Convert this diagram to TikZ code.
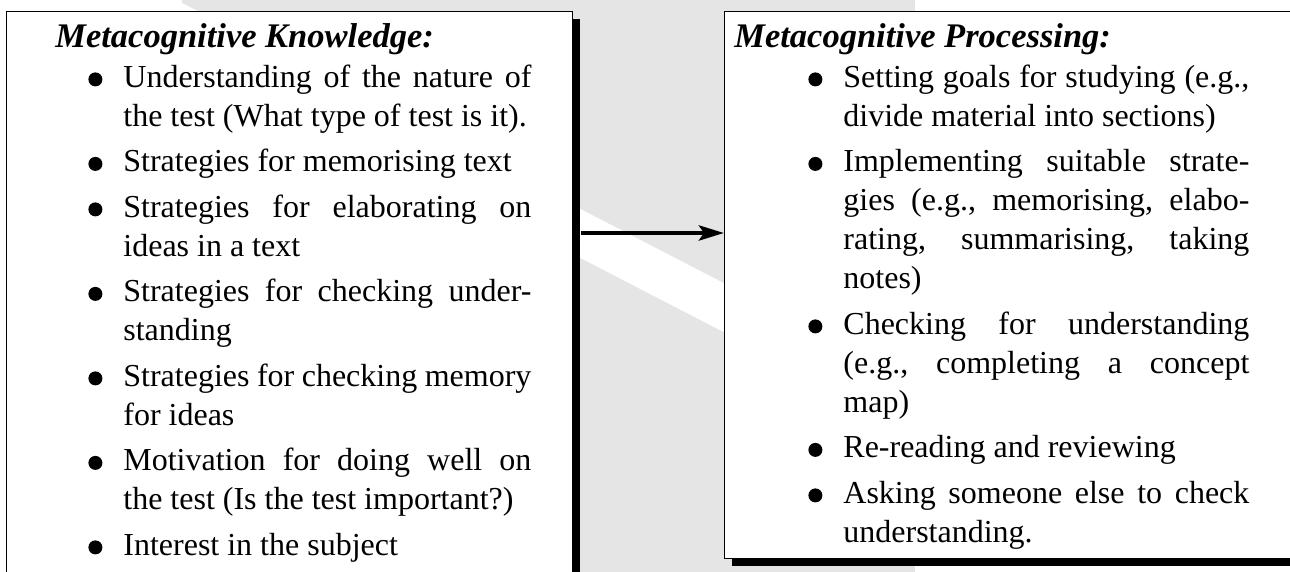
\documentclass[tikz,border=0pt]{standalone}
\usepackage{fontspec}
\setmainfont{Liberation Serif}
\usetikzlibrary{arrows.meta,shadows}
\definecolor{bggray}{RGB}{229,229,229}
\newcommand{\bul}{\tikz[baseline=-8pt]\fill (0,0) circle (7pt);}
\newcommand{\jline}[1]{\makebox[\linewidth][s]{#1}\newline}
\newcommand{\headfont}{\fontsize{34.5}{40}\selectfont\bfseries\itshape\frenchspacing\spaceskip=.25em plus .12em minus .06em\relax}
\newcommand{\bodyfont}{\fontsize{32}{39}\selectfont\frenchspacing\spaceskip=.25em plus .2em minus .06em\relax}
\newenvironment{blist}[1]{\list{\bul}{\setlength\leftmargin{#1}\setlength\rightmargin{41pt}\setlength\labelwidth{14pt}\setlength\labelsep{21pt}\setlength\itemsep{6.5pt}\setlength\parsep{0pt}\setlength\topsep{1pt}\setlength\partopsep{0pt}\setlength\itemindent{0pt}\setlength\listparindent{0pt}}}{\endlist}
\tikzset{
  panel/.style={draw=black, line width=0.8pt, fill=white, inner sep=0pt, anchor=north west,
    text width=566pt, text height=36pt,
    drop shadow={shadow xshift=8pt, shadow yshift=-8pt, opacity=1, fill=black}},
  flow/.style={line width=4.5pt, -{Stealth[length=25pt,width=15pt,inset=5pt]}},
}
\begin{document}
\begin{tikzpicture}[x=1pt,y=-1pt]
\useasboundingbox (0,0) rectangle (1290,572);
\clip (0,0) rectangle (1290,572);
\fill[bggray] (182,0) rectangle (915,572);
\fill[white] (182,3) -- (915,382) -- (915,431) -- (182,52) -- cycle;
\node[panel, text depth=600pt] (know) at (6,11) {%
{\headfont\rule{0pt}{36pt}\hspace*{49pt}Metacognitive Knowledge:\par}%
\bodyfont
\begin{blist}{117pt}
\item \jline{Understanding of the nature of}\mbox{the test (What type of test is it).}
\item \mbox{Strategies for memorising text}
\item \jline{Strategies for elaborating on}\mbox{ideas in a text}
\item \jline{Strategies for checking under-}\mbox{standing}
\item \jline{Strategies for checking memory}\mbox{for ideas}
\item \jline{Motivation for doing well on}\mbox{the test (Is the test important?)}
\item \mbox{Interest in the subject}
\end{blist}};
\node[panel, text depth=511pt] (proc) at (724,11) {%
{\headfont\rule{0pt}{36pt}\hspace*{10pt}Metacognitive Processing:\par}%
\bodyfont
\begin{blist}{119pt}
\item \jline{Setting goals for studying (e.g.,}\mbox{divide material into sections)}
\item \jline{Implementing suitable strate-}\jline{gies (e.g., memorising, elabo-}\jline{rating, summarising, taking}\mbox{notes)}
\item \jline{Checking for understanding}\jline{(e.g., completing a concept}\mbox{map)}
\item \mbox{Re-reading and reviewing}
\item \jline{Asking someone else to check}\mbox{understanding.}
\end{blist}};
\coordinate (start) at (581,233);
\draw[flow] (start) -- (start -| proc.west);
\end{tikzpicture}
\end{document}
